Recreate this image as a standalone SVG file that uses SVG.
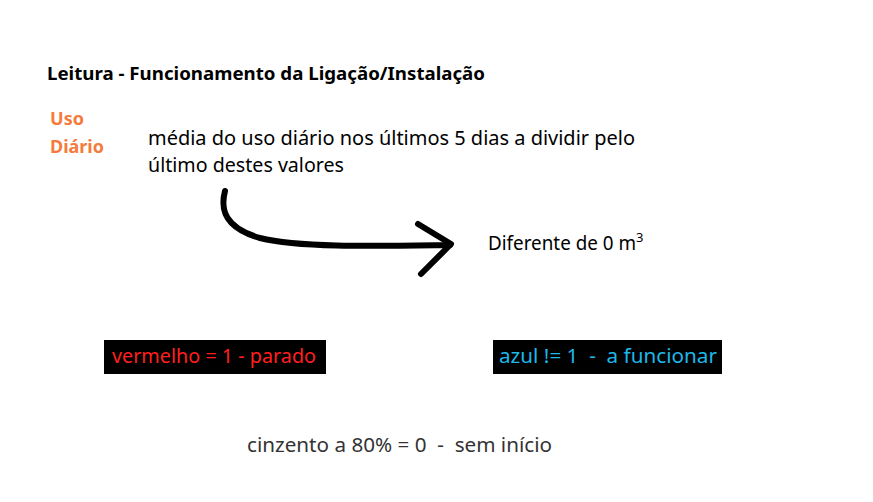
<svg xmlns="http://www.w3.org/2000/svg" width="873" height="502" viewBox="0 0 873 502">
<style>
text{font-family:"Noto Sans","Open Sans","DejaVu Sans",sans-serif;}
.title{font-size:18px;font-weight:bold;fill:#000;}
.lbl{font-size:18px;font-weight:bold;fill:#F47B3C;}
.body{font-size:19px;fill:#000;}
.box{fill:#000;}
.conn{fill:none;stroke:#000;stroke-width:6;stroke-linecap:round;stroke-linejoin:round;}
</style>
<rect width="873" height="502" fill="#fff"/>
<g id="title"><text class="title" x="47" y="80" textLength="438" lengthAdjust="spacingAndGlyphs">Leitura - Funcionamento da Ligação/Instalação</text></g>
<g id="uso-diario">
<text class="lbl" x="50" y="125" textLength="34" lengthAdjust="spacingAndGlyphs">Uso</text>
<text class="lbl" x="50" y="153" textLength="54" lengthAdjust="spacingAndGlyphs">Diário</text>
</g>
<g id="media">
<text class="body" x="148" y="145" textLength="487" lengthAdjust="spacingAndGlyphs">média do uso diário nos últimos 5 dias a dividir pelo</text>
<text class="body" x="148" y="172" textLength="196" lengthAdjust="spacingAndGlyphs">último destes valores</text>
</g>
<g id="diferente">
<text class="body" x="488" y="250"><tspan textLength="148" lengthAdjust="spacingAndGlyphs">Diferente de 0 m</tspan><tspan font-size="13" dy="-8">3</tspan></text>
</g>
<g id="connectors">
<path class="conn" d="M225,191 C220,210 225,228 260,238 C300,248 380,246 450,245"/>
<path class="conn" d="M418,224 L451,244 L421,274"/>
</g>
<g id="vermelho">
<rect class="box" x="104" y="340" width="222" height="34"/>
<text x="112" y="363" font-size="19" fill="#FF1F1F" textLength="204" lengthAdjust="spacingAndGlyphs">vermelho = 1 - parado</text>
</g>
<g id="azul">
<rect class="box" x="493" y="340" width="229" height="34"/>
<text x="499" y="363" font-size="19" fill="#1CB8E8" textLength="218" lengthAdjust="spacingAndGlyphs" xml:space="preserve">azul != 1  -  a funcionar</text>
</g>
<g id="cinzento">
<text x="247" y="452" font-size="19" fill="#333333" textLength="305" lengthAdjust="spacingAndGlyphs" xml:space="preserve">cinzento a 80% = 0  -  sem início</text>
</g>
</svg>
